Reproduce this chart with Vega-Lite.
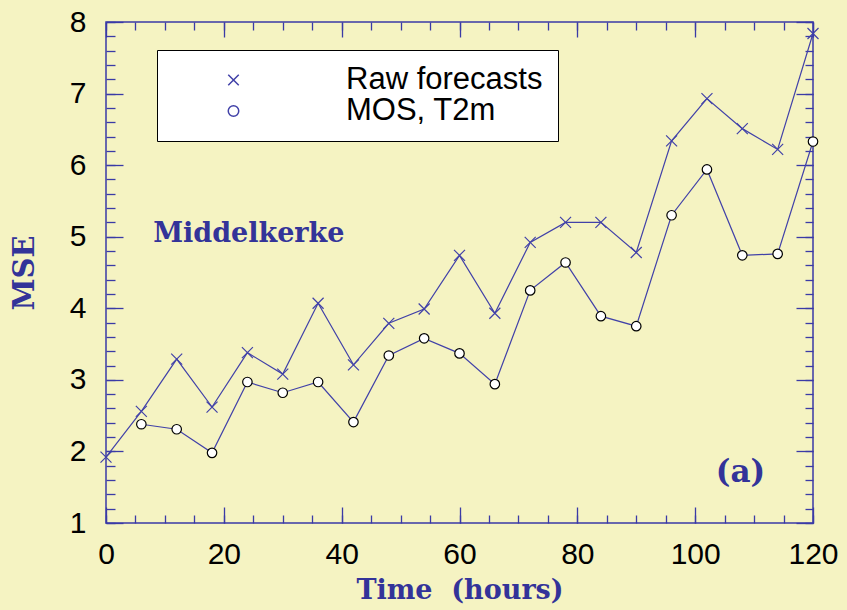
{
  "$schema": "https://vega.github.io/schema/vega-lite/v6.json",
  "width": 707,
  "height": 501,
  "autosize": {"type": "none"},
  "padding": {"left": 106, "top": 22, "right": 34, "bottom": 87},
  "background": "#f5f3c2",
  "config": {
    "view": {"stroke": "#3a3aa6", "strokeWidth": 1.5, "fill": "#f5f3c2"},
    "axis": {
      "domain": false,
      "grid": false,
      "tickColor": "#3a3aa6",
      "tickWidth": 1.3,
      "labelFont": "Liberation Sans",
      "labelFontSize": 30,
      "labelColor": "black",
      "titleFont": "DejaVu Serif",
      "titleFontWeight": "bold",
      "titleFontSize": 27,
      "titleColor": "#333399"
    }
  },
  "data": {
    "values": [
      {"t": 0, "series": "Raw forecasts", "mse": 1.92},
      {"t": 6, "series": "Raw forecasts", "mse": 2.56},
      {"t": 12, "series": "Raw forecasts", "mse": 3.29},
      {"t": 18, "series": "Raw forecasts", "mse": 2.62},
      {"t": 24, "series": "Raw forecasts", "mse": 3.38},
      {"t": 30, "series": "Raw forecasts", "mse": 3.08},
      {"t": 36, "series": "Raw forecasts", "mse": 4.07},
      {"t": 42, "series": "Raw forecasts", "mse": 3.21},
      {"t": 48, "series": "Raw forecasts", "mse": 3.79},
      {"t": 54, "series": "Raw forecasts", "mse": 3.99},
      {"t": 60, "series": "Raw forecasts", "mse": 4.74},
      {"t": 66, "series": "Raw forecasts", "mse": 3.93},
      {"t": 72, "series": "Raw forecasts", "mse": 4.92},
      {"t": 78, "series": "Raw forecasts", "mse": 5.2},
      {"t": 84, "series": "Raw forecasts", "mse": 5.2},
      {"t": 90, "series": "Raw forecasts", "mse": 4.78},
      {"t": 96, "series": "Raw forecasts", "mse": 6.34},
      {"t": 102, "series": "Raw forecasts", "mse": 6.93},
      {"t": 108, "series": "Raw forecasts", "mse": 6.51},
      {"t": 114, "series": "Raw forecasts", "mse": 6.22},
      {"t": 120, "series": "Raw forecasts", "mse": 7.84},
      {"t": 6, "series": "MOS, T2m", "mse": 2.38},
      {"t": 12, "series": "MOS, T2m", "mse": 2.31},
      {"t": 18, "series": "MOS, T2m", "mse": 1.98},
      {"t": 24, "series": "MOS, T2m", "mse": 2.97},
      {"t": 30, "series": "MOS, T2m", "mse": 2.82},
      {"t": 36, "series": "MOS, T2m", "mse": 2.97},
      {"t": 42, "series": "MOS, T2m", "mse": 2.41},
      {"t": 48, "series": "MOS, T2m", "mse": 3.34},
      {"t": 54, "series": "MOS, T2m", "mse": 3.58},
      {"t": 60, "series": "MOS, T2m", "mse": 3.37},
      {"t": 66, "series": "MOS, T2m", "mse": 2.94},
      {"t": 72, "series": "MOS, T2m", "mse": 4.25},
      {"t": 78, "series": "MOS, T2m", "mse": 4.64},
      {"t": 84, "series": "MOS, T2m", "mse": 3.89},
      {"t": 90, "series": "MOS, T2m", "mse": 3.75},
      {"t": 96, "series": "MOS, T2m", "mse": 5.3},
      {"t": 102, "series": "MOS, T2m", "mse": 5.94},
      {"t": 108, "series": "MOS, T2m", "mse": 4.74},
      {"t": 114, "series": "MOS, T2m", "mse": 4.76},
      {"t": 120, "series": "MOS, T2m", "mse": 6.33}
    ]
  },
  "layer": [
    {
      "mark": {"type": "line", "color": "#4141a8", "strokeWidth": 1.2},
      "encoding": {
        "x": {
          "field": "t", "type": "quantitative",
          "scale": {"domain": [0, 120], "nice": false, "zero": false},
          "axis": {
            "orient": "bottom", "values": [0, 20, 40, 60, 80, 100, 120],
            "tickSize": -16, "labelPadding": 32, "labelFlush": false,
            "title": "Time\u00a0\u00a0(hours)", "titlePadding": 8
          }
        },
        "y": {
          "field": "mse", "type": "quantitative",
          "scale": {"domain": [1, 8], "nice": false, "zero": false},
          "axis": {
            "orient": "left", "values": [1, 2, 3, 4, 5, 6, 7, 8],
            "tickSize": -17, "labelPadding": 37, "labelFlush": false,
            "title": "MSE", "titlePadding": 30, "titleFontSize": 29
          }
        },
        "detail": {"field": "series"}
      }
    },
    {
      "mark": {"type": "point", "opacity": 1, "strokeWidth": 1.2},
      "encoding": {
        "x": {
          "field": "t", "type": "quantitative",
          "scale": {"domain": [0, 120], "nice": false, "zero": false},
          "axis": {
            "orient": "bottom",
            "values": [0, 5, 10, 15, 20, 25, 30, 35, 40, 45, 50, 55, 60, 65, 70, 75, 80, 85, 90, 95, 100, 105, 110, 115, 120],
            "tickSize": -8, "labels": false, "title": null
          }
        },
        "y": {
          "field": "mse", "type": "quantitative",
          "scale": {"domain": [1, 8], "nice": false, "zero": false},
          "axis": {
            "orient": "left",
            "values": [1, 1.2, 1.4, 1.6, 1.8, 2, 2.2, 2.4, 2.6, 2.8, 3, 3.2, 3.4, 3.6, 3.8, 4, 4.2, 4.4, 4.6, 4.8, 5, 5.2, 5.4, 5.6, 5.8, 6, 6.2, 6.4, 6.6, 6.8, 7, 7.2, 7.4, 7.6, 7.8, 8],
            "tickSize": -9, "labels": false, "title": null
          }
        },
        "shape": {
          "field": "series", "type": "nominal",
          "scale": {
            "domain": ["Raw forecasts", "MOS, T2m"],
            "range": ["M-1,-1L1,1M-1,1L1,-1", "circle"]
          },
          "legend": {
            "orient": "none", "legendX": 51, "legendY": 28,
            "title": null,
            "fillColor": "white", "strokeColor": "black",
            "padding": 15, "cornerRadius": 0,
            "labelFont": "Liberation Sans", "labelFontSize": 31, "labelColor": "black", "labelLimit": 400,
            "symbolSize": 110, "clipHeight": 30, "labelOffset": 97, "rowPadding": 0,
            "symbolOffset": 46
          }
        },
        "size": {
          "condition": {"test": "datum.series === 'MOS, T2m'", "value": 90},
          "value": 121
        },
        "fill": {
          "condition": {"test": "datum.series === 'MOS, T2m'", "value": "white"},
          "value": "transparent"
        },
        "stroke": {
          "condition": {"test": "datum.series === 'MOS, T2m'", "value": "black"},
          "value": "#4141a8"
        }
      }
    },
    {
      "data": {"values": [{"label": "Middelkerke"}]},
      "mark": {"type": "text", "fontSize": 27, "align": "left", "baseline": "alphabetic", "font": "DejaVu Serif", "fontWeight": "bold", "fill": "#333399"},
      "encoding": {
        "text": {"field": "label"},
        "x": {
          "datum": 8, "type": "quantitative",
          "scale": {"domain": [0, 120], "nice": false, "zero": false},
          "axis": {
            "orient": "top", "values": [0, 20, 40, 60, 80, 100, 120],
            "tickSize": -15, "labels": false, "title": null
          }
        },
        "y": {
          "datum": 4.93, "type": "quantitative",
          "scale": {"domain": [1, 8], "nice": false, "zero": false},
          "axis": {
            "orient": "right", "values": [1, 2, 3, 4, 5, 6, 7, 8],
            "tickSize": -17, "labels": false, "title": null
          }
        }
      }
    },
    {
      "data": {"values": [{"label": "(a)"}]},
      "mark": {"type": "text", "fontSize": 31, "align": "right", "baseline": "alphabetic", "font": "DejaVu Serif", "fontWeight": "bold", "fill": "#333399"},
      "encoding": {
        "text": {"field": "label"},
        "x": {
          "datum": 111.9, "type": "quantitative",
          "scale": {"domain": [0, 120], "nice": false, "zero": false},
          "axis": {
            "orient": "top",
            "values": [0, 5, 10, 15, 20, 25, 30, 35, 40, 45, 50, 55, 60, 65, 70, 75, 80, 85, 90, 95, 100, 105, 110, 115, 120],
            "tickSize": -8, "labels": false, "title": null
          }
        },
        "y": {
          "datum": 1.57, "type": "quantitative",
          "scale": {"domain": [1, 8], "nice": false, "zero": false},
          "axis": {
            "orient": "right",
            "values": [1, 1.2, 1.4, 1.6, 1.8, 2, 2.2, 2.4, 2.6, 2.8, 3, 3.2, 3.4, 3.6, 3.8, 4, 4.2, 4.4, 4.6, 4.8, 5, 5.2, 5.4, 5.6, 5.8, 6, 6.2, 6.4, 6.6, 6.8, 7, 7.2, 7.4, 7.6, 7.8, 8],
            "tickSize": -8, "labels": false, "title": null
          }
        }
      }
    }
  ],
  "resolve": {"axis": {"x": "independent", "y": "independent"}}
}
